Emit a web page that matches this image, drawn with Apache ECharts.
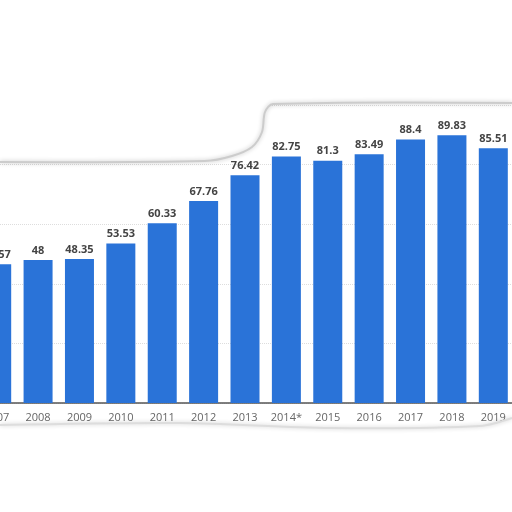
<!DOCTYPE html>
<html>
<head>
<meta charset="utf-8">
<script src="https://cdn.jsdelivr.net/npm/echarts@6/dist/echarts.min.js"></script>
<style>
html,body{margin:0;padding:0;background:#fff;overflow:hidden;}
#main{width:538px;height:512px;margin-left:-24px;}
</style>
</head>
<body>
<div id="main"></div>
<script>
var years=['2007','2008','2009','2010','2011','2012','2013','2014*','2015','2016','2017','2018','2019'];
var values=[46.57,48,48.35,53.53,60.33,67.76,76.42,82.75,81.3,83.49,88.4,89.83,85.51];
var yTicks=[0,20,40,60,80,100];

// chart div is shifted 24px left, so page x = chart x - 24
var dx=24;
var edge=[[dx,162],[dx+205,161],[dx+232,156],[dx+252,147],[dx+262,132],[dx+265,112],[dx+273,104],[dx+512,103]];
var chart=echarts.init(document.getElementById('main'));
var option={
    backgroundColor:'#fff',
    animation:false,
    grid:{left:0,right:0,top:105,bottom:109,containLabel:false},
    xAxis:{
        type:'category',
        data:years,
        axisTick:{show:false},
        axisLine:{lineStyle:{color:'#555',width:1.5}},
        axisLabel:{color:'#666',fontSize:11,margin:9,interval:0,fontFamily:'Open Sans'}
    },
    yAxis:{
        type:'value',
        min:yTicks[0],
        max:yTicks[yTicks.length-1],
        interval:20,
        axisLabel:{show:false},
        axisLine:{show:false},
        axisTick:{show:false},
        splitLine:{lineStyle:{color:'#ddd',type:'dotted'}}
    },
    series:[{
        type:'bar',
        data:values,
        barWidth:29,
        itemStyle:{color:'#2a73d8'},
        label:{
            show:true,
            position:'top',
            distance:4,
            color:'#444',
            fontSize:11,
            fontWeight:'bold',
            fontFamily:'Open Sans'
        }
    }],
    graphic:[
        {
            type:'polygon',
            z:90,
            shape:{points:[[dx,0],[dx+512,0]].concat(edge.slice().reverse())},
            style:{fill:'#fff'}
        },
        {
            type:'polyline',
            z:100,
            shape:{points:edge,smooth:0.3},
            style:{stroke:'#ccc',lineWidth:2,fill:null,shadowBlur:4,shadowColor:'rgba(0,0,0,0.25)'}
        },
        {
            type:'polyline',
            z:100,
            shape:{points:[[dx,425],[dx+180,423],[dx+330,428],[dx+480,426],[dx+512,418]],smooth:0.3},
            style:{stroke:'#ddd',lineWidth:2,fill:null,shadowBlur:4,shadowColor:'rgba(0,0,0,0.2)'}
        }
    ]
};
chart.setOption(option);
</script>
</body>
</html>
